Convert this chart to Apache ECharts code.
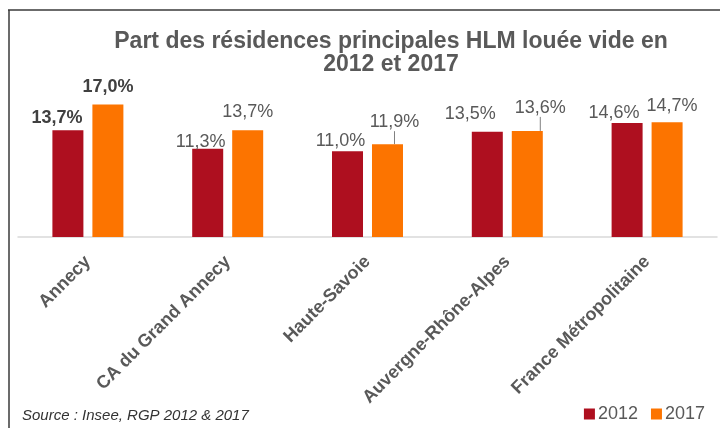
<!DOCTYPE html>
<html><head><meta charset="utf-8">
<script src="https://cdn.jsdelivr.net/npm/echarts@6/dist/echarts.min.js"></script>
<style>html,body{margin:0;padding:0;background:#fff}#c{width:720px;height:428px}</style>
</head><body><div id="c"></div>
<script>
const categories = ['Annecy', 'CA du Grand Annecy', 'Haute-Savoie', 'Auvergne-Rhône-Alpes', 'France Métropolitaine'];
const values2012 = [13.7, 11.3, 11.0, 13.5, 14.6];
const values2017 = [17.0, 13.7, 11.9, 13.6, 14.7];
const seriesNames = ['2012', '2017'];

// label shifts (dx, dy) relative to default top position
const shifts2012 = [[-11, 2], [-7, 7], [-7, 4], [-17, -4], [-13, 4]];
const shifts2017 = [[0, -3], [0, -4], [7, -8], [13, -9], [5, -2]];
const leader2017 = [false, false, true, true, false];

const fmt = v => v.toFixed(1).replace('.', ',') + '%';
const chart = echarts.init(document.getElementById('c'));
const txt = '#595959';
const FF = '"Liberation Sans", Arial, sans-serif';

function mkData(vals, leaders) {
  return vals.map((v, i) => ({
    value: v,
    label: i === 0 ? { fontWeight: 'bold', color: '#404040' } : {},
    labelLine: { show: !!(leaders && leaders[i]) }
  }));
}

chart.setOption({
  animation: false,
  textStyle: { fontFamily: FF },
  title: {
    text: 'Part des résidences principales HLM louée vide en\n2012 et 2017',
    left: 386, textAlign: 'center', top: 25,
    textStyle: { fontSize: 23, fontWeight: 'bold', color: txt, lineHeight: 23, fontFamily: FF }
  },
  legend: {
    right: 10, bottom: 0, itemWidth: 11, itemHeight: 11, itemGap: 13,
    icon: 'rect',
    textStyle: { fontSize: 18, color: txt, padding: [0, 0, 0, -2] },
    data: seriesNames
  },
  grid: { left: 18, right: 3, top: 81, bottom: 191, containLabel: false },
  xAxis: {
    type: 'category', data: categories,
    axisLine: { lineStyle: { color: '#D9D9D9', width: 1.5 } },
    axisTick: { show: false },
    axisLabel: { rotate: 45, fontSize: 18, fontWeight: 'bold', color: txt, margin: 22, interval: 0 }
  },
  yAxis: { type: 'value', min: 0, max: 20, show: false, splitLine: { show: false } },
  series: [
    {
      name: seriesNames[0], type: 'bar', barWidth: 31, barGap: '29%',
      itemStyle: { color: '#AE0F1F' },
      data: mkData(values2012, null),
      label: { show: true, position: 'top', distance: 5, fontSize: 18, color: txt, formatter: p => fmt(p.value) },
      labelLayout: p => ({ dx: shifts2012[p.dataIndex][0], dy: shifts2012[p.dataIndex][1] })
    },
    {
      name: seriesNames[1], type: 'bar', barWidth: 31, barGap: '29%',
      itemStyle: { color: '#FC7400' },
      data: mkData(values2017, leader2017),
      label: { show: true, position: 'top', distance: 5, fontSize: 18, color: txt, formatter: p => fmt(p.value) },
      labelLine: { show: false, lineStyle: { color: '#808080', width: 1 } },
      labelLayout: p => ({ dx: shifts2017[p.dataIndex][0], dy: shifts2017[p.dataIndex][1] })
    }
  ],
  graphic: [
    { type: 'line', shape: { x1: 9, y1: 10, x2: 9, y2: 428 }, style: { stroke: '#3a3a3a', lineWidth: 1.5 } },
    { type: 'line', shape: { x1: 8, y1: 10, x2: 720, y2: 10 }, style: { stroke: '#3a3a3a', lineWidth: 1.5 } },
    { type: 'text', left: 22, top: 408, style: { text: 'Source : Insee, RGP 2012 & 2017', fill: '#333', font: 'italic 15px "Liberation Sans", Arial, sans-serif' } }
  ]
});
</script></body></html>
